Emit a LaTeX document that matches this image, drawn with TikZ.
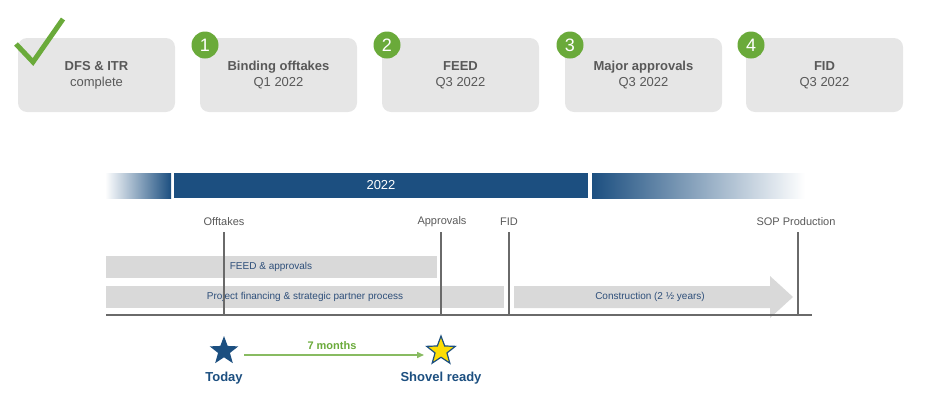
\documentclass[tikz,border=0pt]{standalone}
\usepackage{fontspec}
\setmainfont{Liberation Sans}
\usetikzlibrary{shapes.geometric,arrows.meta}
\definecolor{boxgray}{HTML}{E6E6E6}
\definecolor{bargray}{HTML}{D9D9D9}
\definecolor{navy}{HTML}{1C4F80}
\definecolor{grn}{HTML}{6AAA3A}
\definecolor{txt}{HTML}{595959}
\definecolor{bartxt}{HTML}{2E4F7A}
\tikzset{
  stage/.style={fill=boxgray,rounded corners=9pt,minimum width=157pt,minimum height=74pt,align=center,text=txt,font=\fontsize{13}{16}\selectfont,inner sep=0},
  num/.style={circle,fill=grn,text=white,minimum size=27pt,inner sep=0,font=\fontsize{18}{18}\selectfont},
  mlab/.style={text=txt,font=\fontsize{11}{13}\selectfont},
  vline/.style={draw=txt!90,line width=1.5pt},
  bar/.style={fill=bargray,text=bartxt,font=\fontsize{10}{12}\selectfont,inner sep=0,minimum height=22pt,anchor=west},
  st/.style={star,star points=5,star point ratio=2.4,minimum size=30pt,inner sep=0},
  blab/.style={text=navy,font=\bfseries\fontsize{13}{15}\selectfont},
}
\begin{document}
\begin{tikzpicture}[x=1pt,y=-1pt]
\useasboundingbox (0,0) rectangle (927,405);
% stage boxes
\node[stage] (b0) at (96.5,75) {\textbf{DFS \& ITR}\\complete};
\node[stage] (b1) at (278.5,75) {\textbf{Binding offtakes}\\Q1 2022};
\node[stage] (b2) at (460.5,75) {\textbf{FEED}\\Q3 2022};
\node[stage] (b3) at (643.5,75) {\textbf{Major approvals}\\Q3 2022};
\node[stage] (b4) at (824.5,75) {\textbf{FID}\\Q3 2022};
\node[num] (n1) at (205,45) {1};
\node[num] (n2) at (387,45) {2};
\node[num] (n3) at (570,45) {3};
\node[num] (n4) at (751,45) {4};
\coordinate (c1) at (16,44); \coordinate (c2) at (33,62); \coordinate (c3) at (63,19);
\draw[grn,line width=5pt] (c1) -- (c2) -- (c3);
% banner
\fill[left color=white,right color=navy] (105,173) rectangle (171,198);
\node[fill=navy,text=white,minimum width=414pt,minimum height=25pt,inner sep=0,font=\fontsize{13}{15}\selectfont] (yr) at (381,185.5) {2022};
\fill[left color=navy,right color=white] (592,173) rectangle (805,198);
% milestones
\node[mlab] (m1) at (224,222) {Offtakes};
\node[mlab] (m2) at (442,222) {Approvals};
\node[mlab] (m3) at (509,222) {FID};
\node[mlab] (m4) at (796,222) {SOP Production};
% bars
\node[bar,minimum width=331pt] (f1) at (106,267) {};
\node[text=bartxt,font=\fontsize{10}{12}\selectfont] at (271,267) {FEED \& approvals};
\node[bar,minimum width=398pt] (f2) at (106,297) {};
\node[text=bartxt,font=\fontsize{10}{12}\selectfont] at (305,297) {Project financing \& strategic partner process};
\fill[bargray] (514,286) -- (770,286) -- (770,276) -- (793,297) -- (770,318) -- (770,308) -- (514,308) -- cycle;
\node[text=bartxt,font=\fontsize{10}{12}\selectfont] (con) at (650,297) {Construction (2 ½ years)};
% vertical lines
\coordinate (v1) at (224,232); \coordinate (w1) at (224,315);
\coordinate (v2) at (441,232); \coordinate (w2) at (441,315);
\coordinate (v3) at (509,232); \coordinate (w3) at (509,315);
\coordinate (v4) at (798,232); \coordinate (w4) at (798,315);
\draw[vline] (v1)--(w1); \draw[vline] (v2)--(w2); \draw[vline] (v3)--(w3); \draw[vline] (v4)--(w4);
\coordinate (a0) at (106,315); \coordinate (a1) at (812,315);
\draw[draw=txt!90,line width=2pt] (a0)--(a1);
% stars
\node[st,fill=navy] (today) at (224,351) {};
\node[st,fill=yellow!80!orange,draw=navy,line width=1.2pt] (shovel) at (441,351) {};
\coordinate (p) at (244,355); \coordinate (q) at (424,355);
\draw[grn!80,line width=1.5pt,-{Triangle[length=7pt,width=6pt]}] (p) -- (q);
\node[text=grn,font=\bfseries\fontsize{11}{13}\selectfont] at (332,346) {7 months};
\node[blab] at (224,378) {Today};
\node[blab] at (441,378) {Shovel ready};
\end{tikzpicture}
\end{document}
